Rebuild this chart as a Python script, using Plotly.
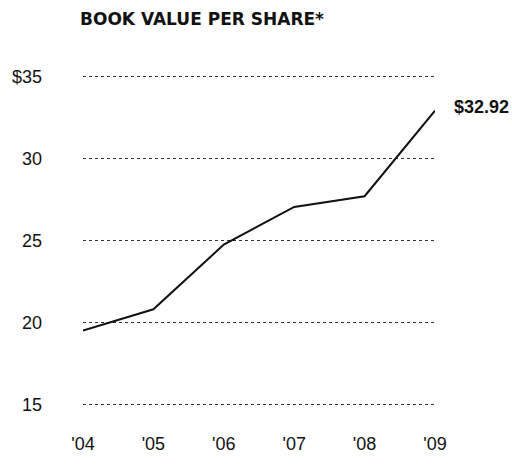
import plotly.graph_objects as go

years = ["'04", "'05", "'06", "'07", "'08", "'09"]
book_value = [19.5, 20.8, 24.75, 27.05, 27.7, 32.92]
y_ticks = [15, 20, 25, 30, 35]
y_tick_labels = ["15", "20", "25", "30", "$35"]
end_label = "$32.92"

tick_font = "Liberation Sans, Arial, sans-serif"

fig = go.Figure()
fig.add_trace(go.Scatter(
    x=list(range(len(years))), y=book_value, mode="lines",
    line=dict(color="#111111", width=2), cliponaxis=False, hoverinfo="skip",
))

fig.add_annotation(
    x=len(years) - 1, y=book_value[-1], text="<b>" + end_label + "</b>",
    showarrow=False, xanchor="left", yanchor="middle", xshift=17, yshift=4,
    font=dict(family=tick_font, size=18, color="#111111"),
)

fig.update_layout(
    width=512, height=466,
    margin=dict(l=78, r=77, t=75, b=43),
    paper_bgcolor="white", plot_bgcolor="white",
    showlegend=False,
    title=dict(
        text="<b>BOOK VALUE PER SHARE*</b>", x=80/512, xanchor="left",
        y=1 - 19/466, yanchor="middle",
        font=dict(family="DejaVu Sans, sans-serif", size=17, color="#111111"),
    ),
    xaxis=dict(
        range=[0, len(years) - 1], tickmode="array",
        tickvals=list(range(len(years))), ticktext=years,
        showgrid=False, zeroline=False, showline=False, ticks="",
        ticklabelstandoff=25,
        tickfont=dict(family=tick_font, size=18, color="#111111"),
    ),
    yaxis=dict(
        range=[14.9, 35.1], tickmode="array", tickvals=y_ticks, ticktext=y_tick_labels,
        showgrid=True, gridcolor="#333333", gridwidth=1, griddash="dot",
        zeroline=False, showline=False, ticks="",
        ticklabelstandoff=40,
        tickfont=dict(family=tick_font, size=18, color="#111111"),
    ),
)

fig.write_html(
    "out.html",
    config={"displayModeBar": False, "staticPlot": True},
    post_script="document.body.style.margin='0';document.body.style.overflow='hidden';",
)
